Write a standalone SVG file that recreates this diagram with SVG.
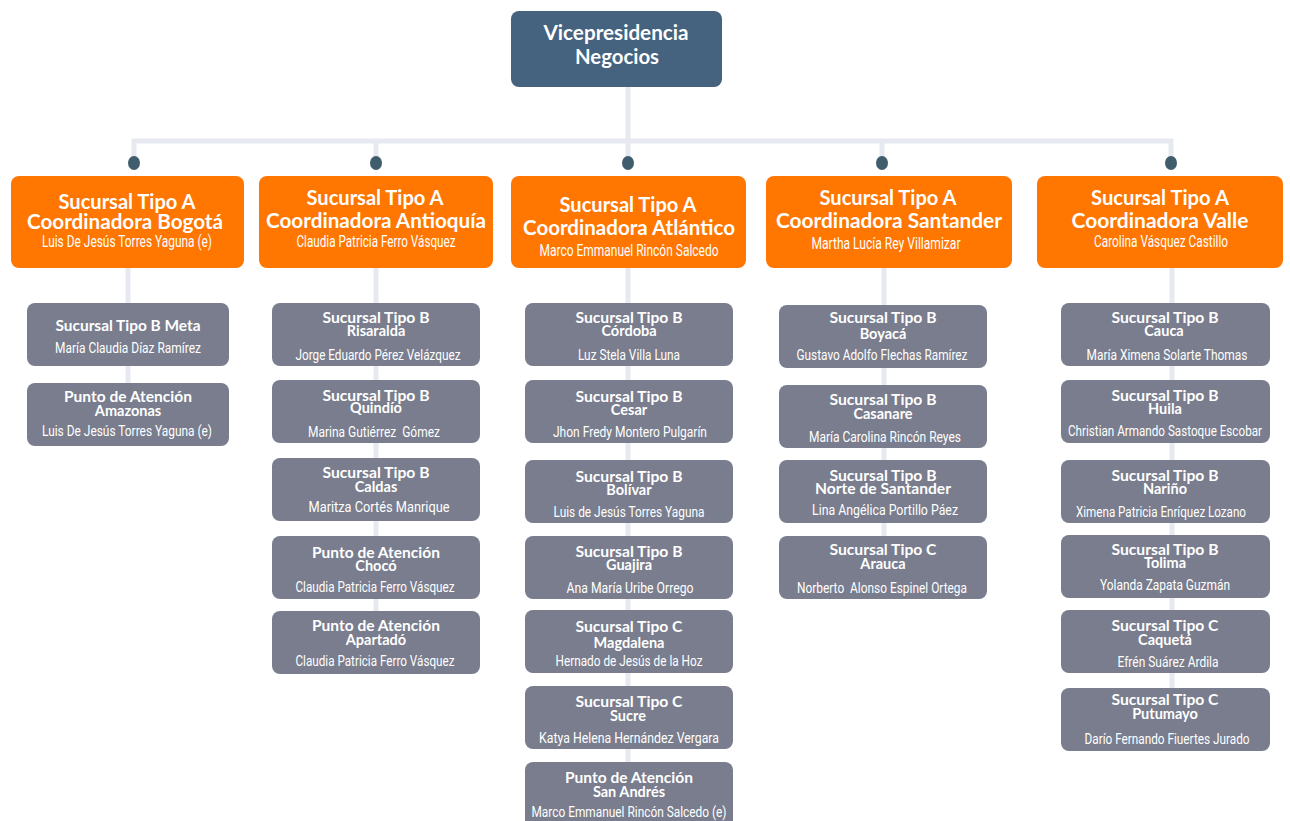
<svg xmlns="http://www.w3.org/2000/svg" width="1290" height="821" viewBox="0 0 1290 821">
<style>
.bg{fill:#ffffff}
.con{stroke:#E6E9F0;stroke-width:5;fill:none}
.dot{fill:#3F5D6C}
.top{fill:#45627F}
.org{fill:#FF7600}
.gry{fill:#797D8D}
text{fill:#ffffff;text-anchor:middle}
.tt{font-family:Lato,"Open Sans",sans-serif;font-weight:700;font-size:20px}
.on{font-family:Roboto,"Liberation Sans",sans-serif;font-size:16px}
.gt{font-family:Lato,"Open Sans",sans-serif;font-weight:700;font-size:14.5px}
.gn{font-family:Roboto,"Liberation Sans",sans-serif;font-size:15px}
</style>
<rect class="bg" x="0" y="0" width="1290" height="821"/>
<g id="connectors">
<path class="con" d="M628 87V141M134 160V141H1171V160M376 141V160M628 141V160M882 141V160"/>
<path class="con" d="M128 268V390M376 268V620M628 268V770M884 268V545M1172 268V695"/>
<ellipse class="dot" cx="134" cy="163" rx="6" ry="7"/>
<ellipse class="dot" cx="376" cy="163" rx="6" ry="7"/>
<ellipse class="dot" cx="628" cy="163" rx="6" ry="7"/>
<ellipse class="dot" cx="882" cy="163" rx="6" ry="7"/>
<ellipse class="dot" cx="1171" cy="163" rx="6" ry="7"/>
</g>
<g id="vp">
<rect class="top" x="511" y="11" width="211" height="76" rx="8"/>
<text class="tt" x="616" y="40" textLength="145" lengthAdjust="spacingAndGlyphs">Vicepresidencia</text>
<text class="tt" x="617" y="64" textLength="84" lengthAdjust="spacingAndGlyphs">Negocios</text>
</g>
<g id="a-bogota">
<rect class="org" x="11" y="176" width="233" height="92" rx="8"/>
<text class="tt" x="127" y="209" textLength="137" lengthAdjust="spacingAndGlyphs">Sucursal Tipo A</text>
<text class="tt" x="125" y="229" textLength="196" lengthAdjust="spacingAndGlyphs">Coordinadora Bogotá</text>
<text class="on" x="127" y="247" textLength="170" lengthAdjust="spacingAndGlyphs">Luis De Jesús Torres Yaguna (e)</text>
</g>
<g id="a-antioquia">
<rect class="org" x="259" y="176" width="234" height="92" rx="8"/>
<text class="tt" x="375" y="205" textLength="137" lengthAdjust="spacingAndGlyphs">Sucursal Tipo A</text>
<text class="tt" x="376" y="228" textLength="220" lengthAdjust="spacingAndGlyphs">Coordinadora Antioquía</text>
<text class="on" x="376" y="247" textLength="159" lengthAdjust="spacingAndGlyphs">Claudia Patricia Ferro Vásquez</text>
</g>
<g id="a-atlantico">
<rect class="org" x="511" y="176" width="235" height="92" rx="8"/>
<text class="tt" x="628" y="212" textLength="137" lengthAdjust="spacingAndGlyphs">Sucursal Tipo A</text>
<text class="tt" x="629" y="235" textLength="212" lengthAdjust="spacingAndGlyphs">Coordinadora Atlántico</text>
<text class="on" x="629" y="256" textLength="179" lengthAdjust="spacingAndGlyphs">Marco Emmanuel Rincón Salcedo</text>
</g>
<g id="a-santander">
<rect class="org" x="766" y="176" width="246" height="92" rx="8"/>
<text class="tt" x="888" y="205" textLength="137" lengthAdjust="spacingAndGlyphs">Sucursal Tipo A</text>
<text class="tt" x="889" y="228" textLength="226" lengthAdjust="spacingAndGlyphs">Coordinadora Santander</text>
<text class="on" x="886" y="249" textLength="149" lengthAdjust="spacingAndGlyphs">Martha Lucía Rey Villamizar</text>
</g>
<g id="a-valle">
<rect class="org" x="1037" y="176" width="246" height="92" rx="8"/>
<text class="tt" x="1160" y="205" textLength="138" lengthAdjust="spacingAndGlyphs">Sucursal Tipo A</text>
<text class="tt" x="1160" y="228" textLength="177" lengthAdjust="spacingAndGlyphs">Coordinadora Valle</text>
<text class="on" x="1161" y="247" textLength="134" lengthAdjust="spacingAndGlyphs">Carolina Vásquez Castillo</text>
</g>
<!-- Column 1 -->
<g id="b-meta">
<rect class="gry" x="27" y="303" width="202" height="63" rx="8"/>
<text class="gt" x="128" y="331" textLength="145" lengthAdjust="spacingAndGlyphs">Sucursal Tipo B Meta</text>
<text class="gn" x="128" y="353" textLength="146" lengthAdjust="spacingAndGlyphs">María Claudia Díaz Ramírez</text>
</g>
<g id="p-amazonas">
<rect class="gry" x="27" y="383" width="202" height="63" rx="8"/>
<text class="gt" x="128" y="402" textLength="128" lengthAdjust="spacingAndGlyphs">Punto de Atención</text>
<text class="gt" x="128" y="416">Amazonas</text>
<text class="gn" x="127" y="436" textLength="170" lengthAdjust="spacingAndGlyphs">Luis De Jesús Torres Yaguna (e)</text>
</g>
<!-- Column 2 -->
<g id="b-risaralda">
<rect class="gry" x="272" y="303" width="208" height="63" rx="8"/>
<text class="gt" x="376" y="323" textLength="107" lengthAdjust="spacingAndGlyphs">Sucursal Tipo B</text>
<text class="gt" x="376" y="336">Risaralda</text>
<text class="gn" x="378" y="360" textLength="165" lengthAdjust="spacingAndGlyphs">Jorge Eduardo Pérez Velázquez</text>
</g>
<g id="b-quindio">
<rect class="gry" x="272" y="380" width="208" height="63" rx="8"/>
<text class="gt" x="376" y="401" textLength="107" lengthAdjust="spacingAndGlyphs">Sucursal Tipo B</text>
<text class="gt" x="376" y="413">Quindío</text>
<text class="gn" x="374" y="437" textLength="132" lengthAdjust="spacingAndGlyphs" xml:space="preserve">Marina Gutiérrez  Gómez</text>
</g>
<g id="b-caldas">
<rect class="gry" x="272" y="458" width="208" height="63" rx="8"/>
<text class="gt" x="376" y="478" textLength="107" lengthAdjust="spacingAndGlyphs">Sucursal Tipo B</text>
<text class="gt" x="376" y="492">Caldas</text>
<text class="gn" x="379" y="512" textLength="141" lengthAdjust="spacingAndGlyphs">Maritza Cortés Manrique</text>
</g>
<g id="p-choco">
<rect class="gry" x="272" y="536" width="208" height="63" rx="8"/>
<text class="gt" x="376" y="558" textLength="128" lengthAdjust="spacingAndGlyphs">Punto de Atención</text>
<text class="gt" x="376" y="571">Chocó</text>
<text class="gn" x="375" y="592" textLength="159" lengthAdjust="spacingAndGlyphs">Claudia Patricia Ferro Vásquez</text>
</g>
<g id="p-apartado">
<rect class="gry" x="272" y="611" width="208" height="63" rx="8"/>
<text class="gt" x="376" y="631" textLength="128" lengthAdjust="spacingAndGlyphs">Punto de Atención</text>
<text class="gt" x="376" y="645">Apartadó</text>
<text class="gn" x="375" y="666" textLength="159" lengthAdjust="spacingAndGlyphs">Claudia Patricia Ferro Vásquez</text>
</g>
<!-- Column 3 -->
<g id="b-cordoba">
<rect class="gry" x="525" y="303" width="208" height="63" rx="8"/>
<text class="gt" x="629" y="323" textLength="107" lengthAdjust="spacingAndGlyphs">Sucursal Tipo B</text>
<text class="gt" x="629" y="336">Córdoba</text>
<text class="gn" x="629" y="360" textLength="102" lengthAdjust="spacingAndGlyphs">Luz Stela Villa Luna</text>
</g>
<g id="b-cesar">
<rect class="gry" x="525" y="380" width="208" height="63" rx="8"/>
<text class="gt" x="629" y="402" textLength="107" lengthAdjust="spacingAndGlyphs">Sucursal Tipo B</text>
<text class="gt" x="629" y="415">Cesar</text>
<text class="gn" x="630" y="437" textLength="154" lengthAdjust="spacingAndGlyphs">Jhon Fredy Montero Pulgarín</text>
</g>
<g id="b-bolivar">
<rect class="gry" x="525" y="460" width="208" height="63" rx="8"/>
<text class="gt" x="629" y="482" textLength="107" lengthAdjust="spacingAndGlyphs">Sucursal Tipo B</text>
<text class="gt" x="629" y="495">Bolívar</text>
<text class="gn" x="629" y="517" textLength="151" lengthAdjust="spacingAndGlyphs">Luis de Jesús Torres Yaguna</text>
</g>
<g id="b-guajira">
<rect class="gry" x="525" y="536" width="208" height="63" rx="8"/>
<text class="gt" x="629" y="557" textLength="107" lengthAdjust="spacingAndGlyphs">Sucursal Tipo B</text>
<text class="gt" x="629" y="570">Guajira</text>
<text class="gn" x="630" y="593" textLength="127" lengthAdjust="spacingAndGlyphs">Ana María Uribe Orrego</text>
</g>
<g id="c-magdalena">
<rect class="gry" x="525" y="610" width="208" height="63" rx="8"/>
<text class="gt" x="629" y="632" textLength="107" lengthAdjust="spacingAndGlyphs">Sucursal Tipo C</text>
<text class="gt" x="629" y="648">Magdalena</text>
<text class="gn" x="629" y="666" textLength="147" lengthAdjust="spacingAndGlyphs">Hernado de Jesús de la Hoz</text>
</g>
<g id="c-sucre">
<rect class="gry" x="525" y="686" width="208" height="63" rx="8"/>
<text class="gt" x="629" y="707" textLength="107" lengthAdjust="spacingAndGlyphs">Sucursal Tipo C</text>
<text class="gt" x="628" y="721">Sucre</text>
<text class="gn" x="629" y="743" textLength="180" lengthAdjust="spacingAndGlyphs">Katya Helena Hernández Vergara</text>
</g>
<g id="p-sanandres">
<rect class="gry" x="525" y="762" width="208" height="66" rx="8"/>
<text class="gt" x="629" y="783" textLength="128" lengthAdjust="spacingAndGlyphs">Punto de Atención</text>
<text class="gt" x="629" y="797">San Andrés</text>
<text class="gn" x="629" y="817" textLength="195" lengthAdjust="spacingAndGlyphs">Marco Emmanuel Rincón Salcedo (e)</text>
</g>
<!-- Column 4 -->
<g id="b-boyaca">
<rect class="gry" x="779" y="305" width="208" height="63" rx="8"/>
<text class="gt" x="883" y="323" textLength="107" lengthAdjust="spacingAndGlyphs">Sucursal Tipo B</text>
<text class="gt" x="883" y="339">Boyacá</text>
<text class="gn" x="882" y="360" textLength="171" lengthAdjust="spacingAndGlyphs">Gustavo Adolfo Flechas Ramírez</text>
</g>
<g id="b-casanare">
<rect class="gry" x="779" y="385" width="208" height="63" rx="8"/>
<text class="gt" x="883" y="405" textLength="107" lengthAdjust="spacingAndGlyphs">Sucursal Tipo B</text>
<text class="gt" x="883" y="419">Casanare</text>
<text class="gn" x="885" y="442" textLength="152" lengthAdjust="spacingAndGlyphs">María Carolina Rincón Reyes</text>
</g>
<g id="b-norte">
<rect class="gry" x="779" y="460" width="208" height="63" rx="8"/>
<text class="gt" x="883" y="481" textLength="107" lengthAdjust="spacingAndGlyphs">Sucursal Tipo B</text>
<text class="gt" x="883" y="494" textLength="136" lengthAdjust="spacingAndGlyphs">Norte de Santander</text>
<text class="gn" x="885" y="515" textLength="146" lengthAdjust="spacingAndGlyphs">Lina Angélica Portillo Páez</text>
</g>
<g id="c-arauca">
<rect class="gry" x="779" y="536" width="208" height="63" rx="8"/>
<text class="gt" x="883" y="555" textLength="107" lengthAdjust="spacingAndGlyphs">Sucursal Tipo C</text>
<text class="gt" x="883" y="569">Arauca</text>
<text class="gn" x="882" y="593" textLength="170" lengthAdjust="spacingAndGlyphs" xml:space="preserve">Norberto  Alonso Espinel Ortega</text>
</g>
<!-- Column 5 -->
<g id="b-cauca">
<rect class="gry" x="1061" y="303" width="209" height="63" rx="8"/>
<text class="gt" x="1165" y="323" textLength="107" lengthAdjust="spacingAndGlyphs">Sucursal Tipo B</text>
<text class="gt" x="1164" y="336">Cauca</text>
<text class="gn" x="1167" y="360" textLength="161" lengthAdjust="spacingAndGlyphs">María Ximena Solarte Thomas</text>
</g>
<g id="b-huila">
<rect class="gry" x="1061" y="380" width="209" height="63" rx="8"/>
<text class="gt" x="1165" y="401" textLength="107" lengthAdjust="spacingAndGlyphs">Sucursal Tipo B</text>
<text class="gt" x="1165" y="414">Huila</text>
<text class="gn" x="1165" y="436" textLength="194" lengthAdjust="spacingAndGlyphs">Christian Armando Sastoque Escobar</text>
</g>
<g id="b-narino">
<rect class="gry" x="1061" y="460" width="209" height="63" rx="8"/>
<text class="gt" x="1165" y="481" textLength="107" lengthAdjust="spacingAndGlyphs">Sucursal Tipo B</text>
<text class="gt" x="1165" y="494">Nariño</text>
<text class="gn" x="1161" y="517" textLength="170" lengthAdjust="spacingAndGlyphs">Ximena Patricia Enríquez Lozano</text>
</g>
<g id="b-tolima">
<rect class="gry" x="1061" y="535" width="209" height="63" rx="8"/>
<text class="gt" x="1165" y="555" textLength="107" lengthAdjust="spacingAndGlyphs">Sucursal Tipo B</text>
<text class="gt" x="1165" y="568">Tolima</text>
<text class="gn" x="1165" y="590" textLength="130" lengthAdjust="spacingAndGlyphs">Yolanda Zapata Guzmán</text>
</g>
<g id="c-caqueta">
<rect class="gry" x="1061" y="610" width="209" height="63" rx="8"/>
<text class="gt" x="1165" y="631" textLength="107" lengthAdjust="spacingAndGlyphs">Sucursal Tipo C</text>
<text class="gt" x="1165" y="645">Caquetá</text>
<text class="gn" x="1168" y="667" textLength="101" lengthAdjust="spacingAndGlyphs">Efrén Suárez Ardila</text>
</g>
<g id="c-putumayo">
<rect class="gry" x="1061" y="688" width="209" height="63" rx="8"/>
<text class="gt" x="1165" y="705" textLength="107" lengthAdjust="spacingAndGlyphs">Sucursal Tipo C</text>
<text class="gt" x="1165" y="719">Putumayo</text>
<text class="gn" x="1167" y="744" textLength="165" lengthAdjust="spacingAndGlyphs">Darío Fernando Fiuertes Jurado</text>
</g>
</svg>
